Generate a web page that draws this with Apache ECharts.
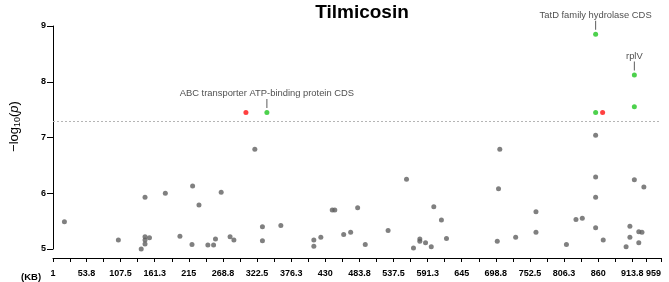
<!DOCTYPE html>
<html>
<head>
<meta charset="utf-8">
<script src="https://cdn.jsdelivr.net/npm/echarts@6/dist/echarts.min.js"></script>
<style>
  html, body { margin: 0; padding: 0; background: #fff; }
  #manhattan { width: 669px; height: 282px; }
</style>
</head>
<body>
<div id="manhattan"></div>
<script>
// Tilmicosin manhattan plot

// position in KB
var tickLabels = [1, 53.8, 107.5, 161.3, 215, 268.8, 322.5, 376.3, 430, 483.8, 537.5, 591.3, 645, 698.8, 752.5, 806.3, 860, 913.8, 959]
var threshold = 7.3

// non significant snps
var greyKb = [19, 104, 146, 146, 146, 146, 153, 140, 178, 201, 221, 220, 231, 245, 254, 257, 266, 280, 286, 319,
  331, 331, 360, 412, 412, 423, 441, 445, 459, 470, 481, 493, 529, 558, 569, 579, 579, 588, 597, 601, 613, 621,
  701, 703, 705, 730, 762, 762, 810, 825, 835, 856, 856, 856, 856, 868, 904, 910, 910, 917, 924, 929, 924, 932]
var greyLogP = [5.49, 5.16, 5.93, 5.22, 5.16, 5.09, 5.20, 5.00, 6.00, 5.23, 6.13, 5.08, 5.79, 5.07, 5.07, 5.18, 6.02, 5.22, 5.16, 6.79,
  5.40, 5.15, 5.42, 5.16, 5.05, 5.21, 5.70, 5.70, 5.26, 5.30, 5.74, 5.08, 5.33, 6.25, 5.02, 5.18, 5.14, 5.11, 5.04, 5.76, 5.52, 5.19,
  5.14, 6.08, 6.79, 5.21, 5.67, 5.30, 5.08, 5.53, 5.55, 7.04, 6.29, 5.93, 5.38, 5.16, 5.04, 5.21, 5.41, 6.24, 5.31, 5.30, 5.11, 6.11]

// significant, annotated
var greenKb = [338, 856, 856, 917, 917]
var greenLogP = [7.45, 8.85, 7.45, 8.12, 7.55]
var greenNames = ['ABC transporter ATP-binding protein CDS', 'TatD family hydrolase CDS', '', 'rplV', '']

var redKb = [305, 867]
var redLogP = [7.45, 7.45]

var font = 'Liberation Sans, Arial, sans-serif'

function pairs(xs, ys, names) {
    var out = []
    for (var i = 0; i < xs.length; i++) {
        var item = { value: [xs[i], ys[i]] }
        if (names) item.name = names[i]
        out.push(item)
    }
    return out
}

// minor ticks half way between the labels
var tickValues = []
for (var i = 0; i < tickLabels.length; i++) {
    tickValues.push(tickLabels[i])
    if (i < tickLabels.length - 1) tickValues.push((tickLabels[i] + tickLabels[i + 1]) / 2)
}

var chart = echarts.init(document.getElementById('manhattan'))
var option = {
    animation: false,
    title: {
        text: 'Tilmicosin',
        left: 357,
        textAlign: 'center',
        top: -2,
        textStyle: { fontFamily: font, fontWeight: 'bold', fontSize: 19, color: '#000' }
    },
    // unit of the x axis, left of the first label
    graphic: [{
        type: 'text',
        left: 21,
        top: 272,
        style: { text: '(KB)', fontFamily: font, fontWeight: 'bold', fontSize: 9.5, fill: '#000' }
    }],
    grid: { left: 48, right: 8, top: 26, bottom: 30 },
    xAxis: {
        type: 'value',
        min: 1,
        max: 959,
        offset: 9,
        axisLine: { show: true, lineStyle: { color: '#000', width: 1 } },
        axisTick: { show: true, length: 4, customValues: tickValues, lineStyle: { color: '#000' } },
        axisLabel: {
            customValues: tickLabels,
            formatter: function (v) { return String(v) },
            fontFamily: font, fontWeight: 'bold', fontSize: 9, color: '#000', margin: 7,
            lineHeight: 17,
            showMaxLabel: true,
            hideOverlap: false,
            alignMaxLabel: 'right'
        },
        splitLine: { show: false }
    },
    yAxis: {
        type: 'value',
        min: 5,
        max: 9,
        interval: 1,
        name: '{a|−log}{b|10}{a|(}{c|p}{a|)}',
        nameLocation: 'middle',
        nameRotate: 90,
        nameGap: 31,
        nameTextStyle: {
            padding: [0, 0, 0, 22],
            rich: {
                a: { fontFamily: font, fontSize: 13, color: '#000' },
                b: { fontFamily: font, fontSize: 9, color: '#000', verticalAlign: 'bottom', padding: [6, 0, 0, 0] },
                c: { fontFamily: font, fontSize: 13, color: '#000', fontStyle: 'italic' }
            }
        },
        axisLine: { show: true, lineStyle: { color: '#000', width: 1 } },
        axisTick: { show: true, length: 6, lineStyle: { color: '#000' } },
        axisLabel: { fontFamily: font, fontWeight: 'bold', fontSize: 9, color: '#000', margin: 7 },
        splitLine: { show: false }
    },
    series: [
        {
            name: 'snp',
            type: 'scatter',
            symbolSize: 5,
            itemStyle: { color: '#606060' },
            data: pairs(greyKb, greyLogP),
            markLine: {
                silent: true,
                symbol: 'none',
                label: { show: false },
                lineStyle: { color: '#b5b5b5', type: [2, 2], width: 1 },
                data: [{ yAxis: threshold }]
            }
        },
        {
            name: 'red',
            type: 'scatter',
            symbolSize: 5,
            itemStyle: { color: '#ff1010' },
            data: pairs(redKb, redLogP)
        },
        {
            name: 'green',
            type: 'scatter',
            symbolSize: 5,
            itemStyle: { color: '#20c620' },
            data: pairs(greenKb, greenLogP, greenNames),
            label: {
                show: true,
                position: 'top',
                distance: 2,
                formatter: function (p) {
                    return p.name ? '{t|' + p.name + '}\n{l|}' : ''
                },
                rich: {
                    t: { fontFamily: font, fontSize: 9.4, color: '#222', lineHeight: 11 },
                    l: { width: 1, height: 9, backgroundColor: '#333' }
                }
            }
        }
    ]
}
chart.setOption(option)
</script>
</body>
</html>
